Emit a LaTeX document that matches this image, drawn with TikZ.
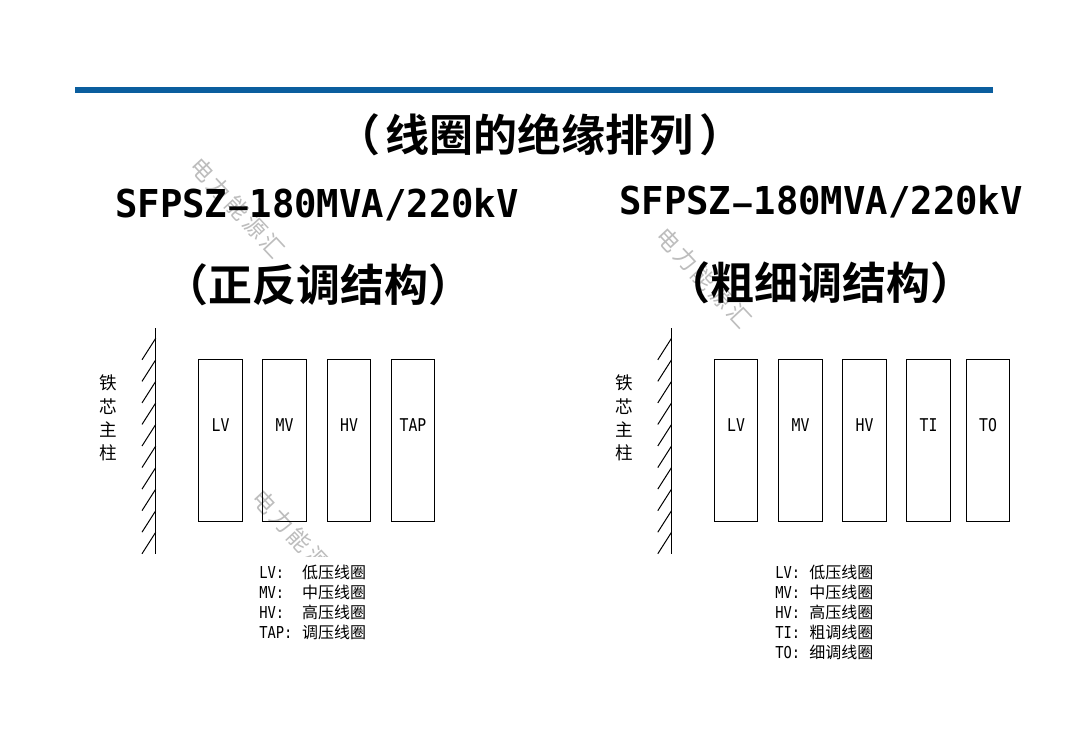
\documentclass[tikz,border=0pt]{standalone}
\usepackage{fontspec}
\setmainfont{Noto Sans CJK SC}
\newfontfamily\cjkbold[BoldFont=*]{Noto Sans CJK SC Bold}
\newfontfamily\monolabel[FakeStretch=0.84]{DejaVu Sans Mono}
\newfontfamily\monobig[FakeStretch=0.97]{DejaVu Sans Mono Bold}
\definecolor{rulecolor}{HTML}{0B5E9E}
\definecolor{wm}{HTML}{BDBDBD}
\newcommand{\legendrow}[3]{\makebox[#1][l]{\monolabel\fontsize{12.3}{14}\selectfont #2}#3}
\newcommand{\widehyphen}{\makebox[0.58em][c]{\raisebox{0.03em}{\scalebox{1.6}[0.7]{-}}}}
\newcommand{\modeltext}{SFPSZ\widehyphen 180MVA/220kV}
\newcommand{\wmtext}{电\hspace{2.5pt}力\hspace{2.5pt}能\hspace{2.5pt}源\hspace{2.5pt}汇}
\tikzset{
  x=0.75pt,y=-0.75pt,
  headline/.style={font=\cjkbold\fontsize{33}{36}\selectfont,inner sep=0pt,text=black},
  modelname/.style={font=\monobig\fontsize{28.8}{32}\selectfont,inner sep=0pt,text=black},
  coil/.style={draw=black,line width=0.75pt,fill=none,minimum width=32.4pt,minimum height=121.5pt,inner sep=0pt},
  coillabel/.style={font=\monolabel\fontsize{13.2}{15}\selectfont,inner sep=0pt},
  corechar/.style={font=\fontsize{13.2}{15}\selectfont,inner sep=0pt},
  legendline/.style={anchor=west,font=\fontsize{12}{14}\selectfont,inner sep=0pt},
  watermark/.style={font=\fontsize{17}{19}\selectfont,text=wm,inner sep=0pt,rotate=-47},
  wall/.style={line width=0.75pt,black}
}
\begin{document}
\begin{tikzpicture}
\useasboundingbox[fill=white] (0,0) rectangle (1080,748);
% watermarks
\node[watermark] (wmA) at (237.5,207.5) {\wmtext};
\node[watermark] (wmB) at (704,278) {\wmtext};
\begin{scope}
  \clip (240,480) rectangle (345,556.5);
  \node[watermark] (wmC) at (300,540) {\wmtext};
\end{scope}
% rule
\fill[rulecolor] (75,87) rectangle (993,93.5);
% headings
\node[headline] (title) at (540,135) {（\hspace{4pt}线圈的绝缘排列\hspace{4pt}）};
\node[modelname] (modelL) at (317,205) {\modeltext};
\node[modelname] (modelR) at (821,202) {\modeltext};
\node[headline] (subL) at (318.5,285) {（正反调结构）};
\node[headline] (subR) at (820,283) {（粗细调结构）};
% left core
\coordinate (wallLt) at (155.7,328);
\coordinate (wallLb) at (155.7,554);
\draw[wall] (wallLt) -- (wallLb);
\foreach \i in {0,...,9}{
  \draw[wall] (155.7,338.3+21.55*\i) -- (142,359.8+21.55*\i);
}
\foreach \c/\y in {铁/383,芯/407,主/430,柱/453}{
  \node[corechar] at (108,\y) {\c};
}
% left coils
\foreach \n/\x in {LV/220.5,MV/284.5,HV/349,TAP/413}{
  \node[coil] (L\n) at (\x,440.3) {};
  \node[coillabel] (L\n t) at (\x,425.5) {\n};
}
% right core
\coordinate (wallRt) at (671.5,328);
\coordinate (wallRb) at (671.5,554);
\draw[wall] (wallRt) -- (wallRb);
\foreach \i in {0,...,9}{
  \draw[wall] (671.5,338.3+21.55*\i) -- (657.8,359.8+21.55*\i);
}
\foreach \c/\y in {铁/383,芯/407,主/430,柱/453}{
  \node[corechar] at (624,\y) {\c};
}
% right coils
\foreach \n/\x in {LV/736,MV/800.5,HV/864.5,TI/928.5,TO/988}{
  \node[coil] (R\n) at (\x,440.3) {};
  \node[coillabel] (R\n t) at (\x,425.5) {\n};
}
% legends
\node[legendline] (la) at (259,572) {\legendrow{32.2pt}{LV:}{低压线圈}};
\node[legendline] (lb) at (259,592) {\legendrow{32.2pt}{MV:}{中压线圈}};
\node[legendline] (lc) at (259,612) {\legendrow{32.2pt}{HV:}{高压线圈}};
\node[legendline] (ld) at (259,632) {\legendrow{32.2pt}{TAP:}{调压线圈}};
\node[legendline] (ra) at (775,572) {\legendrow{25.5pt}{LV:}{低压线圈}};
\node[legendline] (rb) at (775,592) {\legendrow{25.5pt}{MV:}{中压线圈}};
\node[legendline] (rc) at (775,612) {\legendrow{25.5pt}{HV:}{高压线圈}};
\node[legendline] (rd) at (775,632) {\legendrow{25.5pt}{TI:}{粗调线圈}};
\node[legendline] (re) at (775,652) {\legendrow{25.5pt}{TO:}{细调线圈}};
\end{tikzpicture}
\end{document}
